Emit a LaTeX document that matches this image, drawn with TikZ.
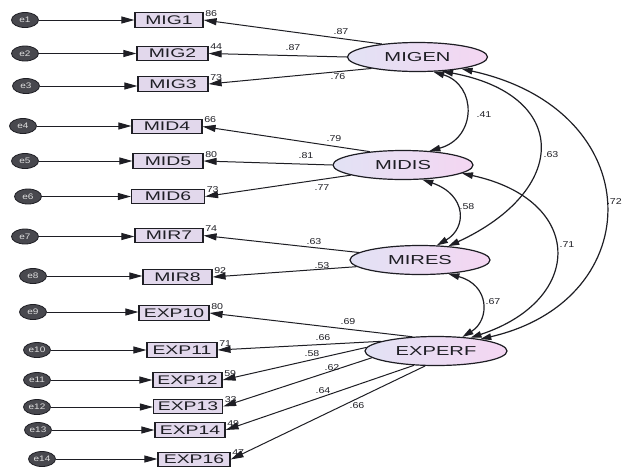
\documentclass[tikz,border=0pt]{standalone}
\usepackage{fontspec}
\setmainfont{Liberation Sans}
\newfontfamily\widefont[FakeStretch=1.55]{Liberation Sans}
\newfontfamily\labfont[FakeStretch=1.25]{Liberation Sans}
\usetikzlibrary{arrows.meta,shapes.geometric}
\definecolor{boxfill}{RGB}{226,216,236}
\definecolor{latl}{RGB}{226,226,244}
\definecolor{latr}{RGB}{244,214,242}
\definecolor{errfill}{RGB}{72,72,78}
\definecolor{ink}{RGB}{30,30,36}
\begin{document}
\begin{tikzpicture}[x=1pt,y=-1pt,
  ind/.style={draw=ink, line width=1.2pt, fill=boxfill, minimum height=14.5pt, inner sep=0pt,
    font=\widefont\fontsize{12.5}{12.5}\selectfont, text=ink},
  lat/.style={ellipse, draw=ink, line width=1.2pt, left color=latl, right color=latr,
    minimum width=140pt, minimum height=29pt, inner sep=0pt,
    font=\widefont\fontsize{13}{13}\selectfont, text=ink},
  err/.style={ellipse, draw=ink, line width=0.8pt, fill=errfill, minimum width=27pt, minimum height=15pt,
    inner sep=0pt, font=\labfont\fontsize{8}{8}\selectfont, text=gray!25},
  lab/.style={font=\labfont\fontsize{8.5}{8.5}\selectfont, text=ink, inner sep=0.5pt},
  r2/.style={lab, anchor=south west, xshift=1pt, yshift=-5pt},
  load/.style={draw=ink, line width=1pt, -{Triangle[length=13pt,width=7pt]}},
  cov/.style={draw=ink, line width=1.2pt, {Triangle[length=11pt,width=6.5pt]}-{Triangle[length=11pt,width=6.5pt]}}
]
\useasboundingbox[fill=white] (0,0) rectangle (623,467);

% latent variables
\node[lat] (MIGEN) at (417.5,57) {MIGEN};
\node[lat] (MIDIS) at (403,165) {MIDIS};
\node[lat] (MIRES) at (420,260) {MIRES};
\node[lat, minimum width=142pt] (EXPERF) at (436,351) {EXPERF};

% indicators
\node[ind, minimum width=68pt] (MIG1) at (169,20) {MIG1};
\node[ind, minimum width=71pt] (MIG2) at (172.5,53.5) {MIG2};
\node[ind, minimum width=70pt] (MIG3) at (173,84) {MIG3};
\node[ind, minimum width=70pt] (MID4) at (167,126.5) {MID4};
\node[ind, minimum width=70pt] (MID5) at (168,161) {MID5};
\node[ind, minimum width=73pt] (MID6) at (168,196.5) {MID6};
\node[ind, minimum width=68pt] (MIR7) at (169,235.5) {MIR7};
\node[ind, minimum width=69pt] (MIR8) at (177.5,277) {MIR8};
\node[ind, minimum width=70pt] (EXP10) at (174,313) {EXP10};
\node[ind, minimum width=70pt] (EXP11) at (182,350) {EXP11};
\node[ind, minimum width=69pt] (EXP12) at (187.5,380) {EXP12};
\node[ind, minimum width=69pt] (EXP13) at (188,406.5) {EXP13};
\node[ind, minimum width=70pt] (EXP14) at (190,430) {EXP14};
\node[ind, minimum width=72pt] (EXP16) at (194,459.5) {EXP16};

% errors
\node[err] (e1) at (25,20) {e1};
\node[err] (e2) at (25,53.5) {e2};
\node[err] (e3) at (26,86) {e3};
\node[err] (e4) at (23,126) {e4};
\node[err] (e5) at (25,161) {e5};
\node[err] (e6) at (28,196.5) {e6};
\node[err] (e7) at (25,236.5) {e7};
\node[err] (e8) at (33,276) {e8};
\node[err] (e9) at (33,312) {e9};
\node[err] (e10) at (37,350) {e10};
\node[err] (e11) at (37,380) {e11};
\node[err] (e12) at (37,407) {e12};
\node[err] (e13) at (38,430) {e13};
\node[err] (e14) at (42,459) {e14};

% error paths
\foreach \e/\b in {e1/MIG1,e2/MIG2,e3/MIG3,e4/MID4,e5/MID5,e6/MID6,e7/MIR7,e8/MIR8,
                   e9/EXP10,e10/EXP11,e11/EXP12,e12/EXP13,e13/EXP14,e14/EXP16}
  \draw[load] (\e.east) -- (\e.east -| \b.west);

% loadings
\draw[load] (MIGEN.160) -- (MIG1.east);
\draw[load] (MIGEN.west) -- (MIG2.east);
\draw[load] (MIGEN.194) -- (MIG3.east);
\draw[load] (MIDIS.158) -- (MID4.east);
\draw[load] (MIDIS.west) -- (MID5.east);
\draw[load] (MIDIS.191) -- (MID6.east);
\draw[load] (MIRES.173) -- (MIR7.east);
\draw[load] (MIRES.186) -- (MIR8.east);
\draw[load] (EXPERF.149) -- (EXP10.east);
\draw[load] (EXPERF.170) -- (EXP11.east);
\draw[load] (EXPERF.177) -- (EXP12.east);
\draw[load] (EXPERF.186) -- (EXP13.east);
\draw[load] (EXPERF.213) -- (EXP14.east);
\draw[load] (EXPERF.234) -- (EXP16.east);

% loading labels
\node[lab] (l1) at (341,32) {.87};
\node[lab] (l2) at (293,48) {.87};
\node[lab] (l3) at (338,77) {.76};
\node[lab] (l4) at (334,139) {.79};
\node[lab] (l5) at (306,156) {.81};
\node[lab] (l6) at (322,188) {.77};
\node[lab] (l7) at (314,242) {.63};
\node[lab] (l8) at (322,266) {.53};
\node[lab] (l9) at (348,322) {.69};
\node[lab] (l10) at (323,338) {.66};
\node[lab] (l11) at (312,354) {.58};
\node[lab] (l12) at (332,368) {.62};
\node[lab] (l13) at (323,391) {.64};
\node[lab] (l14) at (357,406) {.66};

% R2 labels
\node[r2] at (MIG1.north east) {86};
\node[r2] at (MIG2.north east) {44};
\node[r2] at (MIG3.north east) {73};
\node[r2] at (MID4.north east) {66};
\node[r2] at (MID5.north east) {80};
\node[r2] at (MID6.north east) {73};
\node[r2] at (MIR7.north east) {74};
\node[r2] at (MIR8.north east) {92};
\node[r2] at (EXP10.north east) {80};
\node[r2] at (EXP11.north east) {71};
\node[r2] at (EXP12.north east) {59};
\node[r2] at (EXP13.north east) {33};
\node[r2] at (EXP14.north east) {49};
\node[r2] at (EXP16.north east) {47};

% covariances
\draw[cov] (MIGEN.-43) .. controls (477,85) and (477,138) .. (MIDIS.28);
\draw[cov] (MIDIS.-37) .. controls (467,195) and (467,228) .. (MIRES.41);
\draw[cov] (MIRES.-26) .. controls (490,285) and (490,320) .. (EXPERF.28);
\draw[cov] (MIGEN.-30) .. controls (570,95) and (570,190) .. (MIRES.26);
\draw[cov] (MIDIS.-8) .. controls (585,200) and (585,300) .. (EXPERF.21);
\draw[cov] (MIGEN.-15) .. controls (650,110) and (650,300) .. (EXPERF.15);

\node[lab] (c1) at (484,115) {.41};
\node[lab] (c2) at (467,207) {.58};
\node[lab] (c3) at (493,302) {.67};
\node[lab] (c4) at (551,155) {.63};
\node[lab] (c5) at (567,245) {.71};
\node[lab, anchor=east] (c6) at (622.5,202) {.72};
\end{tikzpicture}
\end{document}
